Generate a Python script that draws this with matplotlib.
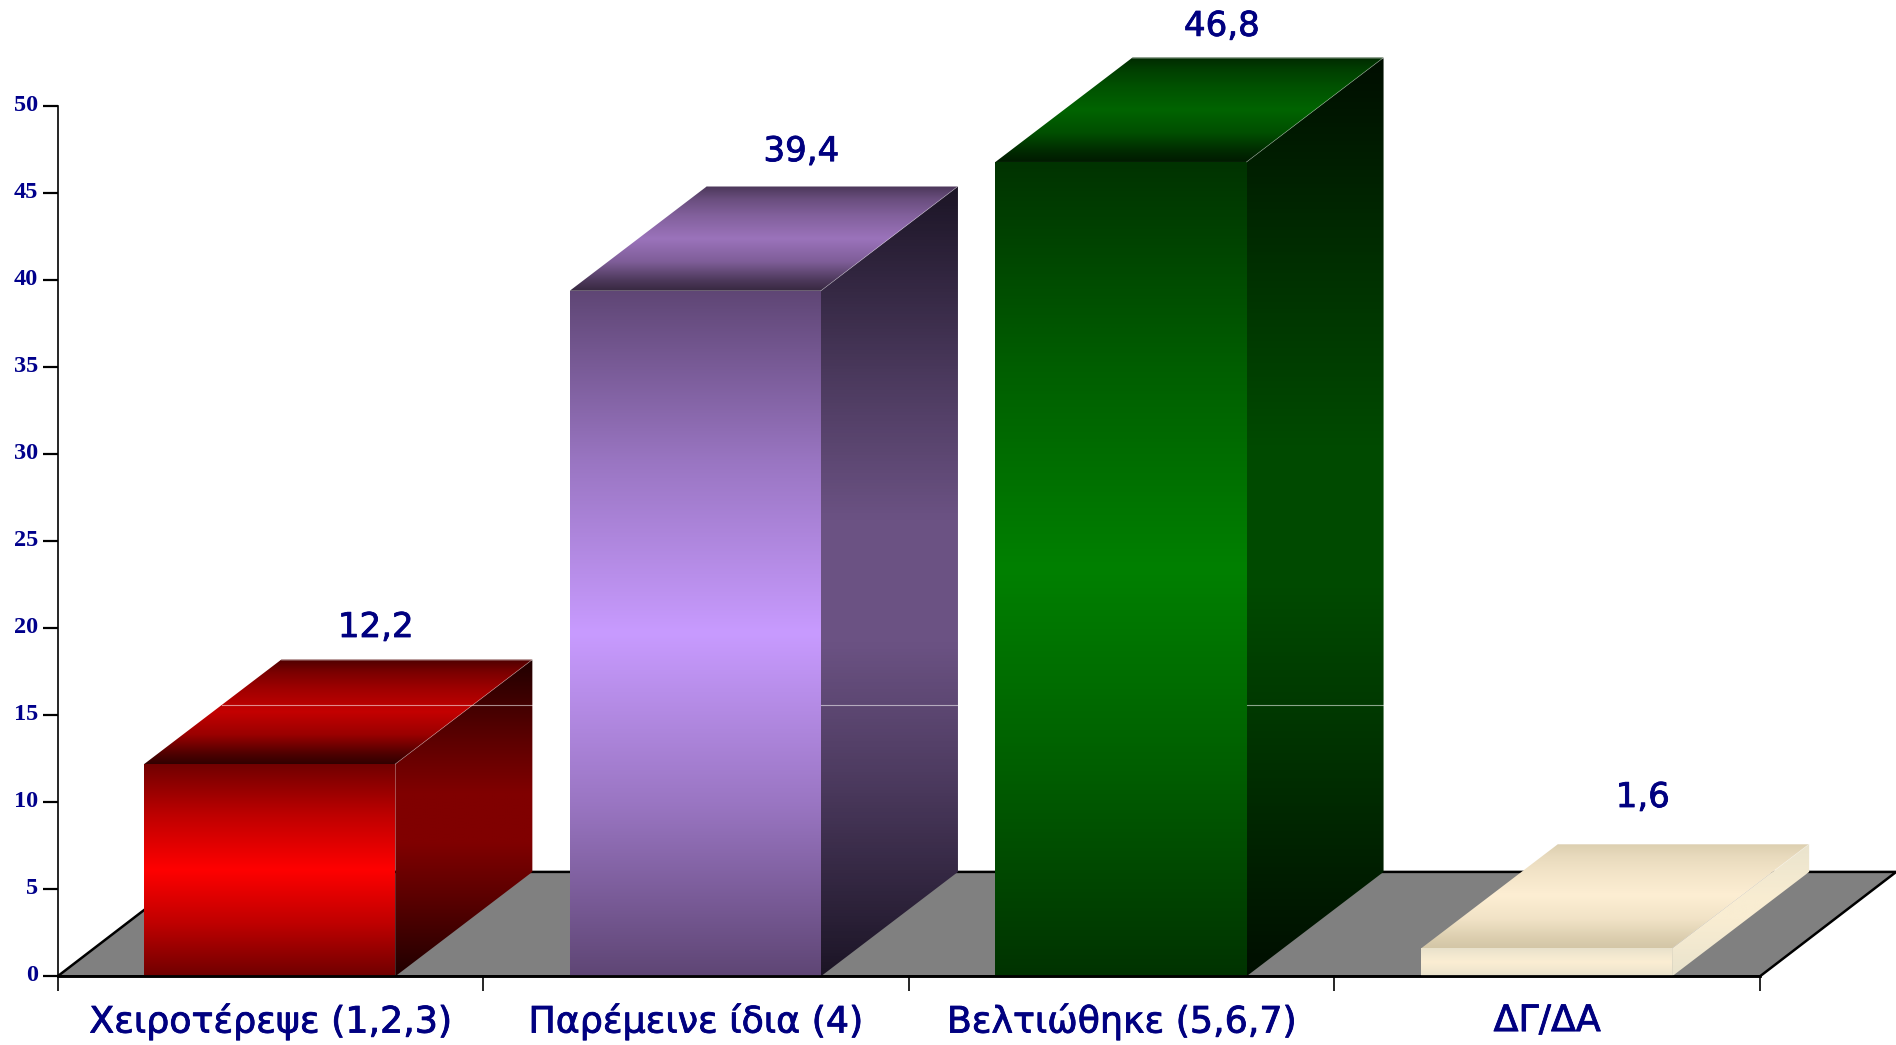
# plot.py - 3D looking bar chart with gradient faces

import numpy as np
import matplotlib
matplotlib.use('Agg')
import matplotlib.pyplot as plt
import matplotlib.patheffects as pe
from matplotlib.colors import LinearSegmentedColormap, to_rgb
from matplotlib.patches import Polygon
from matplotlib.transforms import ScaledTranslation

categories = ['Χειροτέρεψε (1,2,3)', 'Παρέμεινε ίδια (4)', 'Βελτιώθηκε (5,6,7)', 'ΔΓ/ΔΑ']
values = [12.2, 39.4, 46.8, 1.6]
value_labels = ['12,2', '39,4', '46,8', '1,6']
y_ticks = [0, 5, 10, 15, 20, 25, 30, 35, 40, 45, 50]

# (end colour, middle colour) of each face
front_colors = [('#700000', '#ff0000'), ('#5f4675', '#c89bff'), ('#003300', '#008000'), ('#e8e1cb', '#fbeed3')]
top_colors = [('#300000', '#c40000'), ('#372840', '#9b73bb'), ('#001a00', '#006400'), ('#d3c6a6', '#fdeed3')]
side_colors = [('#200000', '#800000'), ('#1c1526', '#6b5283'), ('#000e00', '#004a00'), ('#e9e3cd', '#f9edd2')]

# how far each face goes from end colour to middle colour, bottom to top of the face
front_mix = [(0, 0), (0.25, 0.56), (0.5, 1), (0.75, 0.56), (1, 0)]
top_mix = [(0, 0), (0.1, 0.22), (0.28, 0.72), (0.5, 1), (0.72, 0.75), (0.88, 0.5), (1, 0.2)]
side_mix = [(0, 0), (0.25, 0.62), (0.42, 1), (0.58, 1), (0.75, 0.62), (1, 0)]

# label placement next to each bar, small corrections
label_dx = [0.249, 0.249, 0.237, 0.226]
label_dy = [1.3, 1.45, 1.25, 2.13]

NAVY = '#000080'
bar_start = 0.2035
bar_width = 0.59
depth_x = 0.322
depth_y = 6.0
seam_level = 15.6
bolder = [pe.withStroke(linewidth=0.6, foreground=NAVY)]

fig = plt.figure(figsize=(18.96, 10.45), dpi=100)
ax = fig.add_axes([57.6 / 1896, (1045 - 976.3) / 1045, (1760 - 57.6) / 1896, 870 / 1045])


def draw_face(points, ylo, yhi, colors, mix, zorder):
    # gradient image clipped to the face polygon
    end = np.array(to_rgb(colors[0]))
    mid = np.array(to_rgb(colors[1]))
    stops = [(t, tuple(end + (mid - end) * m)) for t, m in mix]
    cmap = LinearSegmentedColormap.from_list('face', stops)
    xs = [p[0] for p in points]
    grad = np.linspace(0, 1, 256).reshape(-1, 1)
    im = ax.imshow(grad, cmap=cmap, origin='lower', aspect='auto', zorder=zorder, vmin=0, vmax=1,
                   extent=(min(xs), max(xs), ylo, yhi), interpolation='bilinear')
    poly = Polygon(points, closed=True, transform=ax.transData)
    im.set_clip_path(poly)
    im.set_clip_box(fig.bbox)
    return im


# floor
floor = Polygon([(0, 0), (4, 0), (4 + 0.32, depth_y), (0.32, depth_y)], closed=True,
                facecolor='#808080', edgecolor='black', linewidth=1.8, clip_on=False, zorder=1)
ax.add_patch(floor)

for i, v in enumerate(values):
    x0 = i + bar_start
    x1 = x0 + bar_width
    z = 2 + i
    front = [(x0, 0), (x1, 0), (x1, v), (x0, v)]
    top = [(x0, v), (x1, v), (x1 + depth_x, v + depth_y), (x0 + depth_x, v + depth_y)]
    side = [(x1, 0), (x1 + depth_x, depth_y), (x1 + depth_x, v + depth_y), (x1, v)]
    draw_face(side, 0, v + depth_y, side_colors[i], side_mix, z)
    draw_face(top, v, v + depth_y, top_colors[i], top_mix, z)
    draw_face(front, 0, v, front_colors[i], front_mix, z)
    # thin light edges where the faces meet
    ax.plot([x1, x1 + depth_x], [v, v + depth_y], color='white', alpha=0.3, lw=0.6, clip_on=False, zorder=z)
    ax.plot([x0 + depth_x, x1 + depth_x], [v + depth_y, v + depth_y], color='white', alpha=0.3, lw=0.6,
            clip_on=False, zorder=z)
    # seam that runs across the chart image behind the bars
    if v + depth_y > seam_level and i < 3:
        if v < seam_level:
            seam_x0 = x0 + depth_x * (seam_level - v) / depth_y
        else:
            seam_x0 = x1
        ax.plot([seam_x0, x1 + depth_x], [seam_level, seam_level], color='white', alpha=0.55, lw=0.8,
                clip_on=False, zorder=z)
    ax.text(x0 + bar_width / 2 + label_dx[i], v + depth_y + label_dy[i], value_labels[i], color=NAVY,
            fontsize=24.5, ha='center', va='baseline', family='DejaVu Sans', zorder=10, path_effects=bolder)

ax.set_xlim(0, 4)
ax.set_ylim(0, 50)
ax.patch.set_visible(False)
for name in ['top', 'right']:
    ax.spines[name].set_visible(False)
ax.spines['left'].set_linewidth(1.2)
ax.spines['bottom'].set_linewidth(2.0)
ax.spines['bottom'].set_zorder(9)

ax.set_yticks(y_ticks)
ax.set_yticklabels([str(t) for t in y_ticks], fontfamily='Liberation Serif', fontweight='bold',
                   fontsize=17.5, color='#00008b', va='center')
ax.tick_params(axis='y', length=11, width=1.6, pad=3)

ax.set_xticks([0, 1, 2, 3, 4])
ax.set_xticklabels([])
ax.tick_params(axis='x', which='major', length=11, width=1.2)
ax.set_xticks(np.arange(len(categories)) + 0.5, categories, minor=True)
ax.tick_params(axis='x', which='minor', length=0, pad=20, labelsize=26.2, labelcolor=NAVY)
for lab in ax.get_xticklabels(minor=True):
    lab.set_path_effects(bolder)

# the numbers sit a pixel above their ticks
up = ScaledTranslation(0, 1 / 100, fig.dpi_scale_trans)
for lab in ax.get_yticklabels():
    lab.set_transform(lab.get_transform() + up)

fig.savefig('out.png', dpi=100)
